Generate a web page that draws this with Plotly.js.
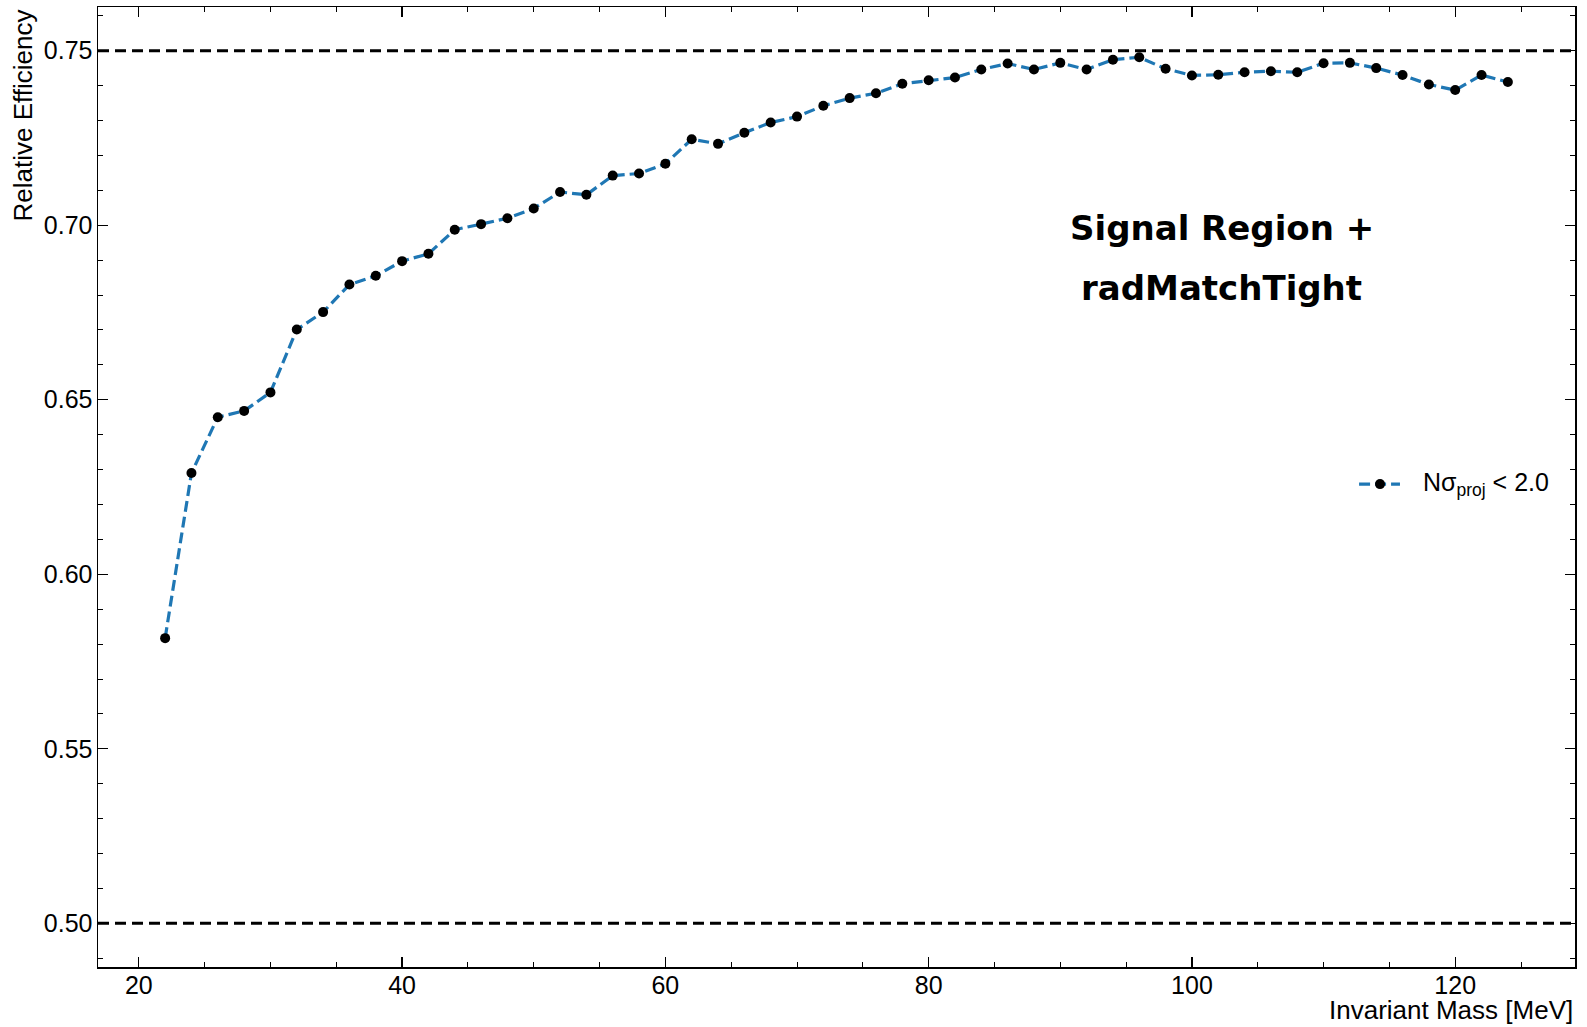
<!DOCTYPE html>
<html>
<head>
<meta charset="utf-8">
<script src="https://cdn.plot.ly/plotly-3.0.1.min.js"></script>
<style>
  html, body { margin: 0; padding: 0; background: #ffffff; }
  #chart { width: 1587px; height: 1027px; }
</style>
</head>
<body>
<div id="chart"></div>
<script>
// Invariant mass bin centres [MeV]
const massMeV = [22, 24, 26, 28, 30, 32, 34, 36, 38, 40, 42, 44, 46, 48, 50, 52, 54, 56, 58, 60,
                 62, 64, 66, 68, 70, 72, 74, 76, 78, 80, 82, 84, 86, 88, 90, 92, 94, 96, 98, 100,
                 102, 104, 106, 108, 110, 112, 114, 116, 118, 120, 122, 124];

// Relative efficiency of the N-sigma projection cut
const relEfficiency = [0.5817, 0.6290, 0.6450, 0.6468, 0.6521, 0.6701, 0.6751, 0.6830, 0.6855, 0.6897,
                       0.6918, 0.6987, 0.7003, 0.7020, 0.7048, 0.7095, 0.7087, 0.7142, 0.7148, 0.7176,
                       0.7246, 0.7233, 0.7265, 0.7294, 0.7311, 0.7342, 0.7364, 0.7378, 0.7405, 0.7415,
                       0.7423, 0.7446, 0.7463, 0.7446, 0.7465, 0.7446, 0.7474, 0.7481, 0.7448, 0.7429,
                       0.7431, 0.7438, 0.7441, 0.7438, 0.7464, 0.7465, 0.7450, 0.7430, 0.7403, 0.7387,
                       0.7430, 0.7410];

// Horizontal reference levels
const refLevels = [0.50, 0.75];

const seriesName = 'Nσ<sub>proj</sub> < 2.0';
const regionLabel = ['Signal Region +', 'radMatchTight'];
const xTitle = 'Invariant Mass [MeV]';
const yTitle = 'Relative Efficiency';

const baseFont = 'Liberation Sans, Arial, Helvetica, sans-serif';
const seriesColor = '#1f77b4';
const markerColor = '#000000';

const trace = {
  x: massMeV,
  y: relEfficiency,
  type: 'scatter',
  mode: 'lines+markers',
  name: seriesName,
  line: { color: seriesColor, width: 3.2, dash: '11px,5px' },
  marker: { color: markerColor, size: 10, line: { width: 0 } },
  showlegend: false
};

const refShapes = refLevels.map(v => ({
  type: 'line', xref: 'paper', yref: 'y',
  x0: 0, x1: 1, y0: v, y1: v,
  line: { color: '#000000', width: 3, dash: '11px,6px' },
  layer: 'above'
}));

// Hand-placed legend entry (longer line sample than the built-in legend gives)
const legendY = 0.503;
const legendShapes = [
  { type: 'line', xref: 'paper', yref: 'paper', x0: 0.8538, x1: 0.8815, y0: legendY, y1: legendY,
    line: { color: seriesColor, width: 3.2, dash: '11px,5px' } },
  { type: 'circle', xref: 'paper', yref: 'paper', xsizemode: 'pixel', ysizemode: 'pixel',
    xanchor: 0.868, yanchor: legendY, x0: -5, x1: 5, y0: -5, y1: 5,
    fillcolor: markerColor, line: { width: 0 } }
];

const axisCommon = {
  showline: true, linecolor: '#000000', linewidth: 1.5,
  mirror: 'allticks', ticks: 'inside', ticklen: 10, tickwidth: 1.2, tickcolor: '#000000',
  showgrid: false, zeroline: false,
  tickfont: { family: baseFont, size: 25, color: '#000000' }
};

const layout = {
  width: 1587, height: 1027,
  margin: { l: 98, r: 12, t: 7, b: 60 },
  paper_bgcolor: '#ffffff', plot_bgcolor: '#ffffff',
  font: { family: baseFont, color: '#000000' },
  xaxis: Object.assign({}, axisCommon, {
    range: [16.9, 129.1], tick0: 0, dtick: 20, ticklabelstandoff: -5,
    minor: { ticks: 'inside', ticklen: 5, tickwidth: 1, tickcolor: '#000000', dtick: 5, tick0: 0, showgrid: false }
  }),
  yaxis: Object.assign({}, axisCommon, {
    range: [0.4875, 0.7625], tick0: 0, dtick: 0.05, tickformat: '.2f', ticklabelstandoff: -1,
    minor: { ticks: 'inside', ticklen: 5, tickwidth: 1, tickcolor: '#000000', dtick: 0.01, tick0: 0, showgrid: false }
  }),
  shapes: refShapes.concat(legendShapes),
  showlegend: false,
  annotations: [
    {
      xref: 'paper', yref: 'paper', x: 0.761, y: 0.7698,
      xanchor: 'center', yanchor: 'middle', showarrow: false,
      text: '<b>' + regionLabel[0] + '</b>',
      font: { family: 'DejaVu Sans, sans-serif', size: 34, color: '#000000' }
    },
    {
      xref: 'paper', yref: 'paper', x: 0.761, y: 0.7073,
      xanchor: 'center', yanchor: 'middle', showarrow: false,
      text: '<b>' + regionLabel[1] + '</b>',
      font: { family: 'DejaVu Sans, sans-serif', size: 34, color: '#000000' }
    },
    {
      xref: 'paper', yref: 'paper', x: 0.8957, y: legendY,
      xanchor: 'left', yanchor: 'middle', showarrow: false,
      text: seriesName,
      font: { family: baseFont, size: 25, color: '#000000' }
    },
    {
      xref: 'paper', yref: 'paper', x: 1, y: -0.045,
      xanchor: 'right', yanchor: 'middle', showarrow: false,
      text: xTitle,
      font: { family: baseFont, size: 26, color: '#000000' }
    },
    {
      xref: 'paper', yref: 'paper', x: -0.0505, y: 1,
      xanchor: 'center', yanchor: 'top', showarrow: false, textangle: -90,
      text: yTitle,
      font: { family: baseFont, size: 26, color: '#000000' }
    }
  ]
};

Plotly.newPlot('chart', [trace], layout, { staticPlot: true, displayModeBar: false });
</script>
</body>
</html>
